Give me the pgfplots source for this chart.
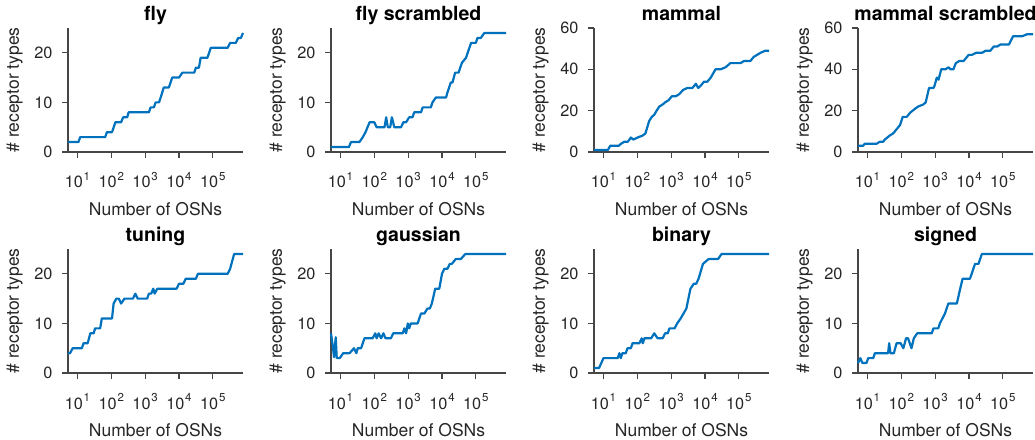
\documentclass[border=0pt]{standalone}
\usepackage{fontspec}
\setmainfont{TeX Gyre Heros}
\usepackage{pgfplots}
\pgfplotsset{compat=1.18}
\definecolor{mblue}{RGB}{0,114,189}
\definecolor{axgray}{RGB}{70,70,70}
\definecolor{txt}{RGB}{38,38,38}
\newcommand{\tp}[1]{10\hspace{0.8pt}\raisebox{7.5pt}{\fontsize{11.5}{12}\selectfont #1}}
\pgfplotsset{
  panel/.style={
    scale only axis, width=175pt, height=124pt, anchor=south west,
    xmin=5.25, xmax=7.8e5, ymin=0,
    axis lines*=left,
    axis line style={axgray, line width=1.2pt},
    major tick style={axgray, line width=1.2pt},
    major tick length=6pt, tick align=outside,
    xminorticks=false, yminorticks=false,
    xtick={10,100,1000,10000,100000},
    xticklabels={\tp{1},\tp{2},\tp{3},\tp{4},\tp{5}},
    /pgf/number format/assume math mode=true,
    tick label style={font=\fontsize{16.3}{19}\selectfont, text=txt},
    xticklabel style={anchor=base, yshift=-30pt},
    yticklabel style={xshift=-6pt},
    xlabel={Number of OSNs},
    ylabel={\# receptor types},
    xlabel style={at={(axis description cs:0.5,-0.516)}, anchor=base, font=\fontsize{17.5}{20}\selectfont, text=txt},
    ylabel style={at={(axis description cs:-0.305,0.5)}, anchor=center, font=\fontsize{17.5}{20}\selectfont, text=txt},
    title style={at={(axis description cs:0.5,1)}, anchor=base, yshift=1.5pt, font=\fontsize{19.5}{22}\selectfont\bfseries, text=black},
    clip=false,
  },
  y25/.style={ymax=25, ytick={0,10,20}},
  y60/.style={ymax=60, ytick={0,20,40,60}},
  curve/.style={mblue, line width=2.2pt, line join=round, no markers},
}
\begin{document}
\begin{tikzpicture}
\useasboundingbox (0,0) rectangle (1035pt,439pt);
% ---------- row 1 ----------
\begin{semilogxaxis}[panel, y25, at={(68pt,287pt)}, title={fly}]
\addplot[curve] coordinates {(5.25,2)(10.7,2)(12,3)(66,3)(74,4)(105,4)(132,6)(195,6)(224,7)(295,7)(324,8)(1290,8)(1450,9)(1820,9)(2040,10)(2570,10)(2880,11)(3550,13)(5010,13)(6310,15)(10000,15)(12600,16)(28200,16)(31600,17)(38900,17)(43700,19)(69200,19)(87100,21)(275000,21)(324000,22)(479000,22)(562000,23)(676000,23)(780000,24)};
\end{semilogxaxis}
\begin{semilogxaxis}[panel, y25, at={(331pt,287pt)}, title={fly scrambled}]
\addplot[curve] coordinates {(5.25,1)(17.8,1)(20.4,2)(36.3,2)(45.7,3)(55,4)(72.4,6)(100,6)(117,5)(200,5)(224,7)(251,5)(295,5)(331,7)(389,5)(617,5)(724,6)(871,6)(1070,7)(1350,7)(1510,8)(2400,8)(2690,9)(4680,9)(5250,10)(6610,11)(13200,11)(14500,12)(18200,14)(20400,14)(24500,16)(30900,16)(38900,18)(51300,19)(57500,20)(72400,22)(100000,22)(112000,23)(141000,23)(178000,24)(780000,24)};
\end{semilogxaxis}
\begin{semilogxaxis}[panel, y60, at={(594pt,287pt)}, title={mammal}]
\addplot[curve] coordinates {(5.25,1)(13.5,1)(15.8,3)(28.2,3)(33.1,4)(41.7,5)(52.5,5)(64.6,7)(75.9,6)(102,7)(145,8)(174,9)(224,15)(269,17)(316,18)(372,20)(447,22)(562,23)(661,24)(832,25)(1050,27)(1380,27)(1740,28)(2240,30)(3020,31)(4270,31)(5370,33)(6310,31)(7410,32)(9330,34)(11700,34)(14800,36)(17400,38)(20400,40)(28800,40)(40700,41)(56200,43)(112000,43)(141000,44)(219000,44)(275000,46)(347000,47)(437000,48)(603000,49)(780000,49)};
\end{semilogxaxis}
\begin{semilogxaxis}[panel, y60, at={(858pt,287pt)}, title={mammal scrambled}]
\addplot[curve] coordinates {(5.25,3)(7.41,3)(8.32,4)(18.6,4)(23.4,5)(29.5,5)(32.4,6)(45.7,8)(57.5,9)(72.4,11)(91.2,13)(110,17)(145,17)(182,19)(257,21)(316,22)(447,23)(525,24)(661,31)(891,31)(955,32)(1120,36)(1260,35)(1510,40)(2000,40)(2510,41)(2820,40)(3470,40)(4070,43)(5130,44)(6920,44)(9770,47)(12300,47)(16200,48)(24500,48)(30900,49)(42700,49)(53700,51)(67600,51)(85100,52)(151000,52)(200000,56)(372000,56)(525000,57)(780000,57)};
\end{semilogxaxis}
% ---------- row 2 ----------
\begin{semilogxaxis}[panel, y25, at={(68pt,66pt)}, title={tuning}]
\addplot[curve] coordinates {(5.25,4)(6.03,4)(7.24,5)(13.5,5)(15.1,6)(20,6)(24,8)(30.2,8)(33.1,9)(46.8,9)(52.5,11)(105,11)(117,14)(141,15)(166,15)(195,14)(245,15)(437,15)(513,16)(603,15)(1150,15)(1290,16)(1510,16)(1740,17)(1910,16)(2290,17)(8510,17)(10000,18)(13500,18)(15800,19)(31600,19)(36300,20)(275000,20)(324000,21)(427000,24)(780000,24)};
\end{semilogxaxis}
\begin{semilogxaxis}[panel, y25, at={(331pt,66pt)}, title={gaussian}]
\addplot[curve] coordinates {(5.25,8)(5.9,5.5)(6.46,3.2)(7.24,7.2)(7.76,3)(9.55,3)(12,4)(18.6,4)(25.1,5)(29.5,4)(32.4,5)(40.7,5)(51.3,7)(89.1,7)(107,8)(117,7)(135,8)(158,7)(186,8)(214,7)(309,7)(363,8)(692,8)(776,9)(871,8)(977,10)(1070,9)(1200,10)(1910,10)(2400,12)(3020,12)(3720,13)(4370,13)(5010,14)(6310,17)(8320,17)(10000,20)(11700,21)(14500,21)(17000,22)(19500,22)(25700,23)(36300,23)(49000,24)(780000,24)};
\end{semilogxaxis}
\begin{semilogxaxis}[panel, y25, at={(594pt,66pt)}, title={binary}]
\addplot[curve] coordinates {(5.25,1)(7.41,1)(10,3)(26.3,3)(29.5,4)(32.4,3)(36.3,4)(45.7,4)(51.3,5)(64.6,5)(72.4,6)(115,6)(135,7)(145,6)(162,7)(257,7)(316,8)(398,7)(562,7)(661,8)(794,8)(891,9)(1260,9)(1510,10)(1910,11)(2820,13)(3720,17)(4680,18)(5500,18)(6460,19)(8710,22)(12900,23)(24500,23)(30900,24)(780000,24)};
\end{semilogxaxis}
\begin{semilogxaxis}[panel, y25, at={(858pt,66pt)}, title={signed}]
\addplot[curve] coordinates {(5.25,2)(6.17,3)(7.08,2)(9.33,2)(10.5,3)(14.8,3)(16.6,4)(40.7,4)(43.7,6)(47.9,4)(60.3,4)(72.4,6)(95.5,6)(115,5)(138,7)(158,7)(200,5)(234,7)(295,8)(794,8)(891,9)(1230,9)(1380,10)(1950,12)(2450,14)(4370,14)(5500,17)(6460,19)(10700,19)(15100,22)(19100,22)(24000,24)(780000,24)};
\end{semilogxaxis}
\end{tikzpicture}
\end{document}
